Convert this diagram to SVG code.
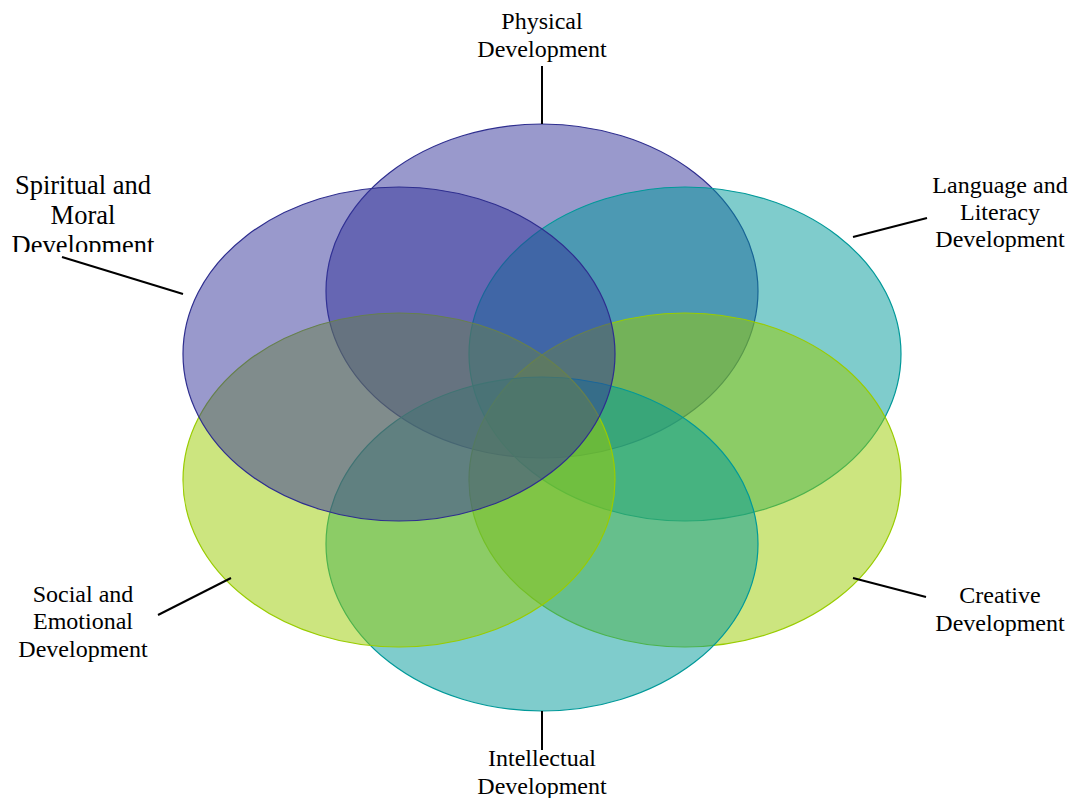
<svg xmlns="http://www.w3.org/2000/svg" width="1073" height="798" viewBox="0 0 1073 798">
  <style>
    .lbl { font-family: "Liberation Serif", "Times New Roman", serif; font-size: 24px; fill: #000; text-anchor: middle; }
    .big { font-size: 26.5px; }
    .purple { fill: #333399; fill-opacity: 0.5; stroke: #2E2E8F; stroke-width: 1.2; }
    .teal { fill: #009999; fill-opacity: 0.5; stroke: #009999; stroke-width: 1.2; }
    .green { fill: #99CC00; fill-opacity: 0.5; stroke: #99CC00; stroke-width: 1.2; }
    .lead { stroke: #000; stroke-width: 2; fill: none; }
  </style>
  <defs>
    <clipPath id="clipSpiritual">
      <rect x="0" y="160" width="200" height="92"/>
    </clipPath>
  </defs>
  <rect width="1073" height="798" fill="#fff"/>

  <!-- overlapping circles of development -->
  <g id="physical"><ellipse class="purple" cx="542" cy="291" rx="216" ry="167"/></g>
  <g id="language"><ellipse class="teal" cx="685" cy="354" rx="216" ry="167"/></g>
  <g id="creative"><ellipse class="green" cx="685" cy="480" rx="216" ry="167"/></g>
  <g id="intellectual"><ellipse class="teal" cx="542" cy="544" rx="216" ry="167"/></g>
  <g id="social"><ellipse class="green" cx="399" cy="480" rx="216" ry="167"/></g>
  <g id="spiritual"><ellipse class="purple" cx="399" cy="354" rx="216" ry="167"/></g>

  <!-- leader lines -->
  <g id="connectors">
    <line class="lead" x1="542" y1="66" x2="542" y2="124"/>
    <line class="lead" x1="853" y1="237" x2="927" y2="218"/>
    <line class="lead" x1="853" y1="578" x2="926" y2="597"/>
    <line class="lead" x1="542" y1="711" x2="542" y2="750"/>
    <line class="lead" x1="158" y1="615" x2="231" y2="578"/>
    <line class="lead" x1="62" y1="257" x2="183" y2="294"/>
  </g>

  <!-- labels -->
  <g id="label-physical">
    <text class="lbl" x="542" y="29">Physical</text>
    <text class="lbl" x="542" y="57">Development</text>
  </g>
  <g id="label-language">
    <text class="lbl" x="1000" y="193">Language and</text>
    <text class="lbl" x="1000" y="220">Literacy</text>
    <text class="lbl" x="1000" y="247">Development</text>
  </g>
  <g id="label-creative">
    <text class="lbl" x="1000" y="603">Creative</text>
    <text class="lbl" x="1000" y="631">Development</text>
  </g>
  <g id="label-intellectual">
    <text class="lbl" x="542" y="766">Intellectual</text>
    <text class="lbl" x="542" y="794">Development</text>
  </g>
  <g id="label-social">
    <text class="lbl" x="83" y="602">Social and</text>
    <text class="lbl" x="83" y="629">Emotional</text>
    <text class="lbl" x="83" y="657">Development</text>
  </g>
  <g id="label-spiritual" clip-path="url(#clipSpiritual)">
    <text class="lbl big" x="83" y="194">Spiritual and</text>
    <text class="lbl big" x="83" y="224">Moral</text>
    <text class="lbl big" x="83" y="254">Development</text>
  </g>
</svg>
